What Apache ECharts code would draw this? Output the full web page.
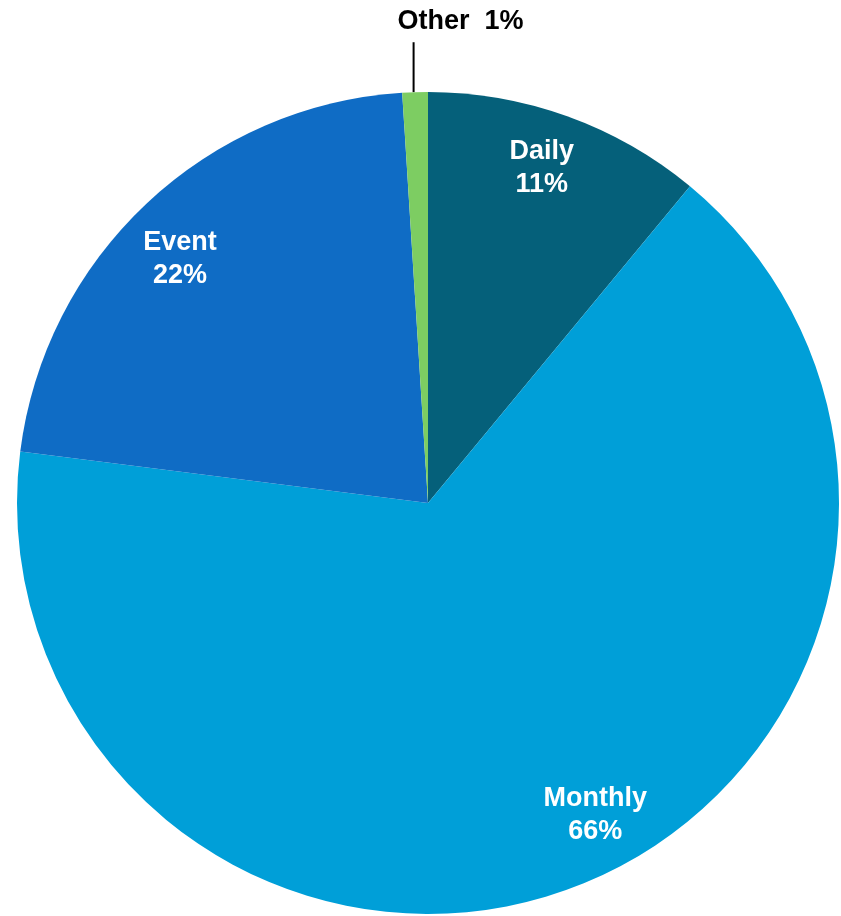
<!DOCTYPE html>
<html>
<head>
<meta charset="utf-8">
<script src="https://cdn.jsdelivr.net/npm/echarts@6/dist/echarts.min.js"></script>
<style>
  html, body { margin: 0; padding: 0; background: #ffffff; }
  #chart { width: 841px; height: 916px; }
</style>
</head>
<body>
<div id="chart"></div>
<script>
// Share of records by collection frequency (percent)
const categories = ['Daily', 'Monthly', 'Event', 'Other'];
const shares = [11, 66, 22, 1];
const sliceColors = ['#05607a', '#009fd8', '#0f6cc5', '#7dcd62'];

const FONT = '"Liberation Sans", Arial, Helvetica, sans-serif';
const CENTER = [428, 503];
const R = 411;

// label nudges (px) for the inside labels, by slice
const insideNudge = [[-7, 0], [36, -19], [-4, 16], [0, 0]];

const pieData = categories.map((name, i) => ({
  name: name,
  value: shares[i],
  itemStyle: { color: sliceColors[i] },
  label: { show: name === 'Other' },
  labelLine: { show: name === 'Other' }
}));

const labelData = categories.map((name, i) => ({
  name: name,
  value: shares[i],
  label: { show: name !== 'Other' }
}));

const chart = echarts.init(document.getElementById('chart'), null, { renderer: 'canvas' });

chart.setOption({
  backgroundColor: '#ffffff',
  animation: false,
  series: [
    {
      // the pie itself, with the small slice labelled outside
      type: 'pie',
      center: CENTER,
      radius: [0, R],
      startAngle: 90,
      clockwise: true,
      silent: true,
      avoidLabelOverlap: false,
      data: pieData,
      label: {
        position: 'outside',
        formatter: '{b}  {c}%',
        color: '#000000',
        fontFamily: FONT,
        fontWeight: 'bold',
        fontSize: 27
      },
      labelLine: {
        length: 50,
        length2: 0,
        smooth: false,
        lineStyle: { color: '#000000', width: 2 }
      },
      labelLayout: function (p) {
        const pts = p.labelLinePoints;
        if (!pts) return {};
        const start = pts[0];
        const end = pts[pts.length - 1];
        // straight vertical leader from the rim up to the label
        const lx = start[0] - 1.5;
        return {
          x: lx + 47,
          y: end[1] - 21,
          align: 'center',
          verticalAlign: 'middle',
          labelLinePoints: [[lx, start[1]], [lx, end[1]], [lx, end[1]]]
        };
      }
    },
    {
      // transparent ring carrying the inside labels near the rim
      type: 'pie',
      center: CENTER,
      radius: [R * 0.72, R],
      startAngle: 90,
      clockwise: true,
      silent: true,
      avoidLabelOverlap: false,
      itemStyle: { color: 'rgba(0,0,0,0)' },
      data: labelData,
      label: {
        position: 'inside',
        formatter: '{b}\n{c}%',
        color: '#ffffff',
        fontFamily: FONT,
        fontWeight: 'bold',
        fontSize: 27,
        lineHeight: 33
      },
      labelLine: { show: false },
      labelLayout: function (p) {
        const n = insideNudge[p.dataIndex];
        return { dx: n[0], dy: n[1] };
      }
    }
  ]
});
</script>
</body>
</html>
